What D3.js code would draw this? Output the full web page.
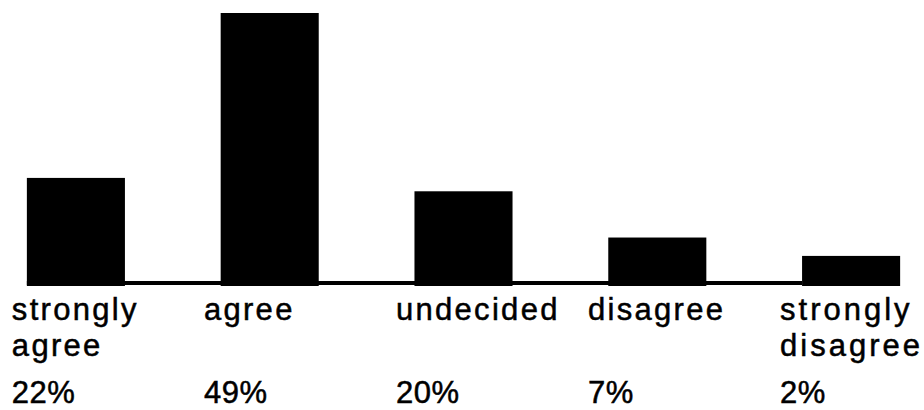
<!DOCTYPE html>
<html>
<head>
<meta charset="utf-8">
<script src="https://cdn.jsdelivr.net/npm/d3@7"></script>
<style>
  html, body { margin: 0; padding: 0; background: #fff; }
  #chart { width: 924px; height: 410px; }
  .label { font-family: "Liberation Sans", Arial, sans-serif; font-size: 31px; letter-spacing: 2.3px;
           fill: #000; stroke: #000; stroke-width: 0.5px; }
</style>
</head>
<body>
<div id="chart"></div>
<script>
// answer categories, each split over two lines
const categories = ["strongly agree", "agree", "undecided", "disagree", "strongly disagree"];
const labelLines = [["strongly", "agree"], ["agree"], ["undecided"], ["disagree"], ["strongly", "disagree"]];
const percentLabels = ["22%", "49%", "20%", "7%", "2%"];
// bar heights as printed (they do not follow the printed percentages exactly)
const barValues = [19.4, 49, 17.0, 8.7, 5.4];

const width = document.querySelector("#chart").clientWidth;
const height = document.querySelector("#chart").clientHeight;
const margin = {top: 13, left: -21, right: -24, bottom: 124};

const canvas = d3.select("#chart")
    .append("svg")
    .attr("width", width)
    .attr("height", height);

const xScale = d3.scaleBand()
    .domain(categories)
    .range([margin.left, width - margin.right])
    .paddingInner(0.494)
    .paddingOuter(0.247);

const yScale = d3.scaleLinear()
    .domain([0, d3.max(barValues)])
    .range([height - margin.bottom, margin.top]);

// baseline running under the bars
canvas.append("line")
    .attr("x1", xScale(categories[0]))
    .attr("x2", xScale(categories[categories.length - 1]))
    .attr("y1", yScale(0) - 3)
    .attr("y2", yScale(0) - 3)
    .attr("stroke", "#000")
    .attr("stroke-width", 4);

canvas.selectAll("rect")
    .data(categories)
    .enter()
    .append("rect")
        .attr("x", function(d) { return xScale(d); })
        .attr("y", function(d, i) { return yScale(barValues[i]); })
        .attr("width", xScale.bandwidth())
        .attr("height", function(d, i) { return yScale(0) - yScale(barValues[i]); })
        .attr("fill", "#000");

// labels sit on a slightly tighter grid, a little left of each bar
const labelX = function(d, i) { return xScale(d) - 15 - 1.75 * i; };

const labels = canvas.selectAll("text.label.cat")
    .data(categories)
    .enter()
    .append("text")
        .attr("class", "label cat")
        .attr("x", labelX)
        .attr("y", yScale(0) + 34)
        .style("letter-spacing", function(d, i) { return i === categories.length - 1 ? "3px" : null; });

labels.selectAll("tspan")
    .data(function(d, i) { return labelLines[i].map(function(t) { return {cat: d, idx: i, text: t}; }); })
    .enter()
    .append("tspan")
        .attr("x", function(d) { return labelX(d.cat, d.idx); })
        .attr("dy", function(d, j) { return j === 0 ? 0 : 36; })
        .text(function(d) { return d.text; });

canvas.selectAll("text.label.pct")
    .data(categories)
    .enter()
    .append("text")
        .attr("class", "label pct")
        .attr("x", labelX)
        .attr("y", yScale(0) + 117)
        .style("letter-spacing", "0.5px")
        .text(function(d, i) { return percentLabels[i]; });
</script>
</body>
</html>
